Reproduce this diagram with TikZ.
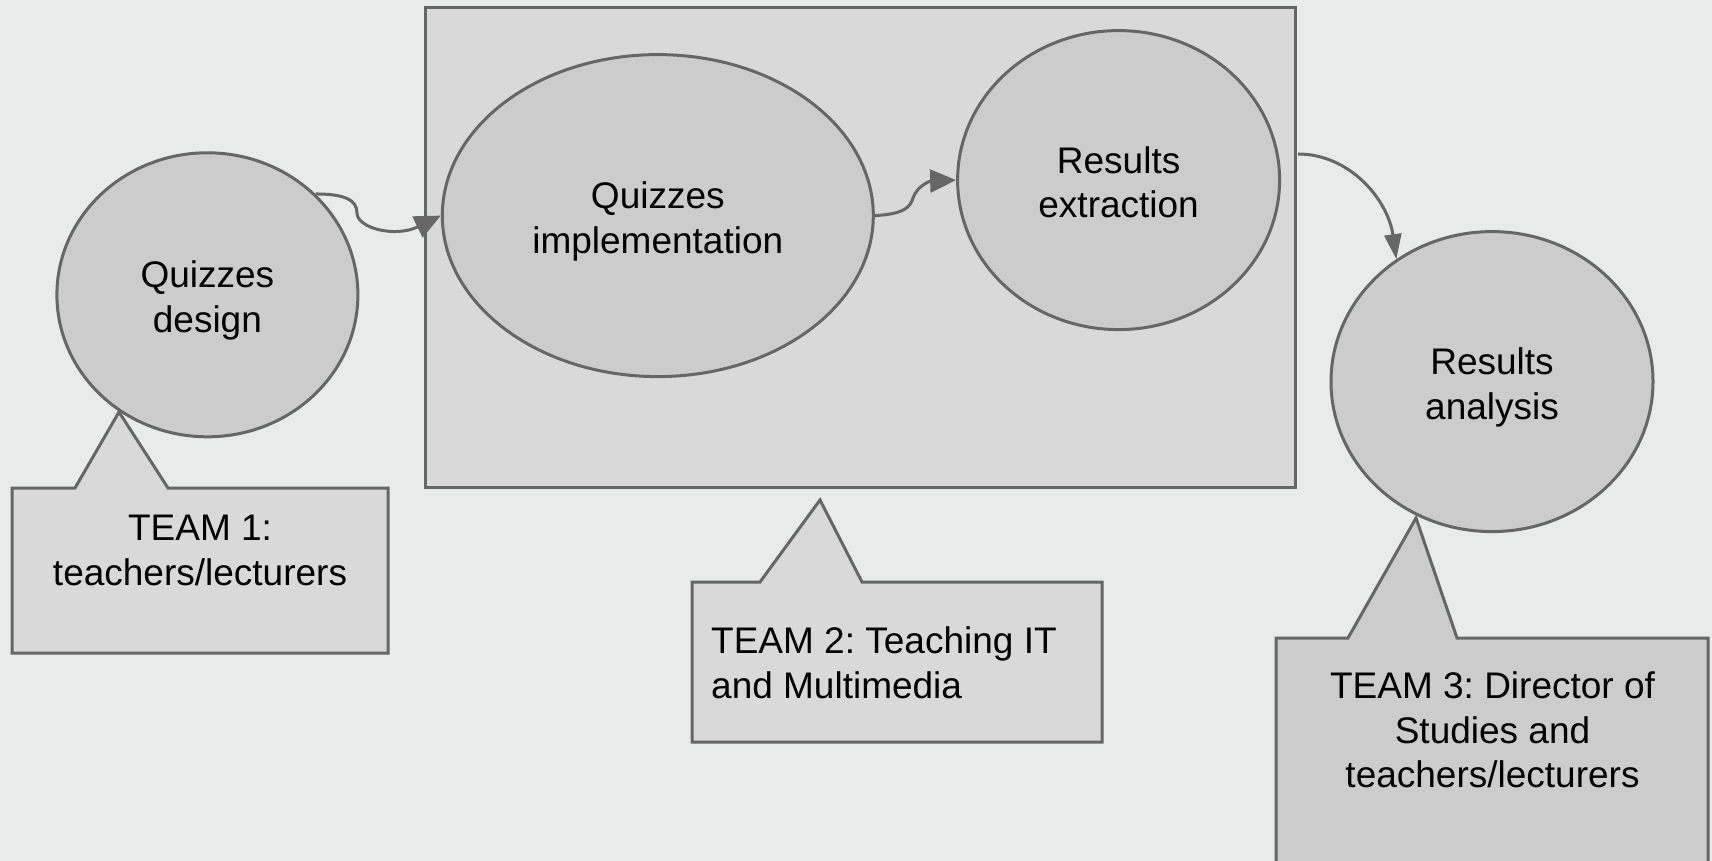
\documentclass[tikz,border=0pt]{standalone}
\usepackage{fontspec}
\setmainfont{Liberation Sans}
\usetikzlibrary{shapes.geometric,arrows.meta}
\definecolor{bgcol}{HTML}{E8EBEA}
\definecolor{boxfill}{HTML}{D9D9D9}
\definecolor{ellfill}{HTML}{CCCCCC}
\definecolor{strokecol}{HTML}{666666}
\frenchspacing
\newcommand\elltext[2]{\rule{0pt}{41pt}#1\\#2\rule[-10pt]{0pt}{10pt}}
\begin{document}
\begin{tikzpicture}[x=1pt,y=-1pt,
  txt/.style={font=\fontsize{37}{44.7}\selectfont},
  ell/.style={ellipse,draw=strokecol,fill=ellfill,line width=3pt,inner sep=0pt,align=center,txt},
  callout/.style={draw=strokecol,line width=3pt,line join=miter},
  lbl/.style={inner sep=0pt,txt},
  conn/.style={draw=strokecol,line width=3pt,-{Triangle[length=26pt,width=23pt]}},
  connb/.style={draw=strokecol,line width=3pt,-{Triangle[length=25pt,width=17pt]}}]
\fill[bgcol] (0,0) rectangle (1712,861);
\useasboundingbox (0,0) rectangle (1712,861);
\clip (0,0) rectangle (1712,861);
% container
\node[draw=strokecol,fill=boxfill,line width=3pt,minimum width=870pt,minimum height=480pt,inner sep=0pt] (box) at (860,247.8) {};
% ellipses
\node[ell,minimum width=301pt,minimum height=284pt] (qd) at (207.4,294.8) {\elltext{Quizzes}{design}};
\node[ell,minimum width=431pt,minimum height=322pt] (qi) at (657.8,215.6) {\elltext{Quizzes}{implementation}};
\node[ell,minimum width=322pt,minimum height=299pt] (re) at (1118.6,180.1) {\elltext{Results}{extraction}};
\node[ell,minimum width=322pt,minimum height=300pt] (ra) at (1492,381.6) {\elltext{Results}{analysis}};
% callouts
\filldraw[callout,fill=boxfill] (12,488) -- (75,488) -- (119,412) -- (168,488) -- (388,488) -- (388,653) -- (12,653) -- cycle;
\node[lbl,anchor=north,align=center] (t1) at (200,515) {TEAM 1:\\teachers/lecturers};
\filldraw[callout,fill=boxfill] (692,582) -- (760,582) -- (820,500) -- (862,582) -- (1102,582) -- (1102,742) -- (692,742) -- cycle;
\node[lbl,anchor=north west,align=left] (t2) at (711,626.5) {TEAM 2: Teaching IT\\and Multimedia};
\filldraw[callout,fill=ellfill] (1276,638) -- (1348,638) -- (1416,518) -- (1457,638) -- (1708,638) -- (1708,880) -- (1276,880) -- cycle;
\node[lbl,anchor=north,align=center] (t3) at (1492.5,671.5) {TEAM 3: Director of\\Studies and\\teachers/lecturers};
% connectors
\draw[conn] (qd.43) .. controls (345,194) and (357,200) .. (357,213) .. controls (357,228) and (395,238) .. (qi.west);
\draw[conn] (qi.east) .. controls (905,214) and (910,207) .. (913,198) .. controls (917,186) and (930,181) .. (re.west);
\coordinate (c3) at (1298,154);
\draw[connb] (c3) .. controls (1350,154) and (1388,200) .. (ra.128);
\end{tikzpicture}
\end{document}
